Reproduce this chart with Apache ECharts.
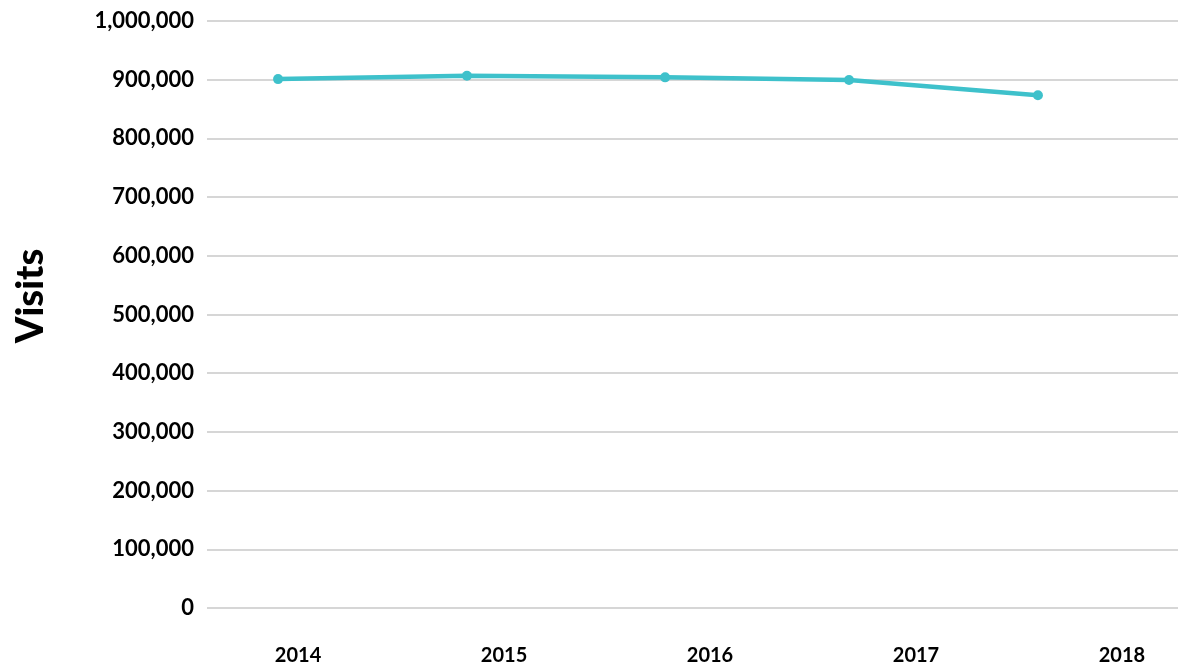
<!DOCTYPE html>
<html><head><meta charset="utf-8">
<script src="https://cdn.jsdelivr.net/npm/echarts@6/dist/echarts.min.js"></script>
<style>html,body{margin:0;padding:0;background:#fff}#c{width:1178px;height:671px}</style>
</head><body><div id="c"></div>
<script>
// x positions in decimal years
const xYears = [2013.903, 2014.820, 2015.782, 2016.675, 2017.592];
const visits = [901000, 906800, 904000, 899500, 873400];
const yearTicks = [2014, 2015, 2016, 2017, 2018];
const yTitle = 'Visits';

const font = 'Lato';
const chart = echarts.init(document.getElementById('c'));
chart.setOption({
  animation:false,
  grid:{left:207,right:0,top:21,bottom:63,outerBoundsMode:'none',containLabel:false},
  graphic:[{type:'text',x:31,y:296,rotation:Math.PI/2,
    style:{text:yTitle,fill:'#000',font:'900 38px Lato',align:'center',verticalAlign:'middle'}}],
  xAxis:{type:'value',min:2013.558,max:2018.272,
    axisLine:{show:false},axisTick:{show:false},splitLine:{show:false},
    axisLabel:{customValues:yearTicks,formatter:v=>String(Math.round(v)),
      color:'#000',fontFamily:font,fontWeight:'bold',fontSize:20,margin:38}},
  yAxis:{type:'value',min:0,max:1000000,interval:100000,
    axisLine:{show:false},axisTick:{show:false},
    splitLine:{lineStyle:{color:'#c8c8c8',width:1.5}},
    axisLabel:{color:'#000',fontFamily:font,fontWeight:'bold',fontSize:22,margin:13,
      formatter:v=>v.toLocaleString('en-US')}},
  series:[{type:'line',data:xYears.map((x,i)=>[x,visits[i]]),
    symbol:'circle',symbolSize:10,
    lineStyle:{color:'#3ec1cb',width:4.5},itemStyle:{color:'#3ec1cb'}}]
});
</script></body></html>
